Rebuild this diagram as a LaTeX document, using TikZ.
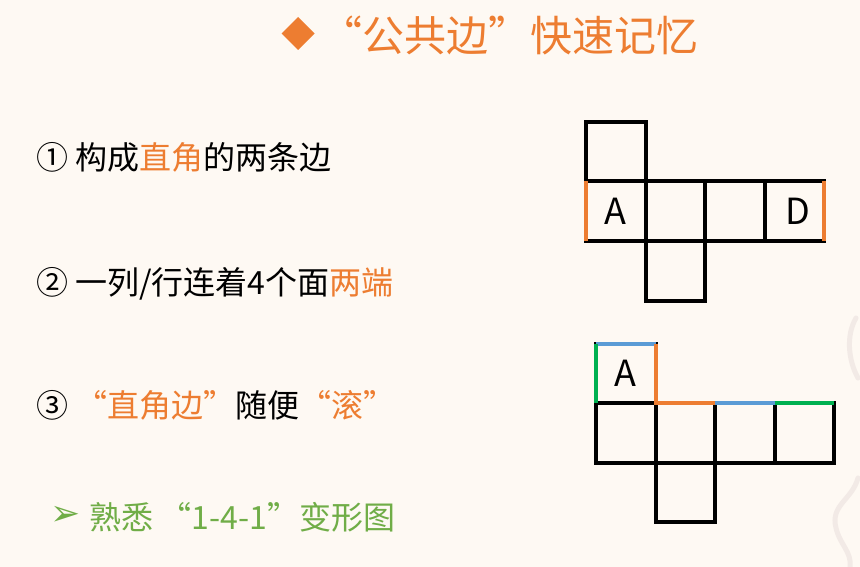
\documentclass[tikz,border=0pt]{standalone}
\usepackage{fontspec}
\setmainfont{Noto Sans CJK SC}
\newfontfamily\symfont{DejaVu Sans}
\definecolor{bgcream}{RGB}{254,249,243}
\definecolor{edgeorange}{RGB}{237,125,49}
\definecolor{edgeblue}{RGB}{91,155,213}
\definecolor{edgegreen}{RGB}{0,176,80}
\definecolor{textgreen}{RGB}{112,173,71}
\definecolor{swirl}{RGB}{242,234,230}
\tikzset{
  cell/.style={draw, line width=4pt, minimum size=59.5pt, inner sep=0pt, outer sep=0pt},
  letter/.style={font=\fontsize{36}{36}\selectfont, inner sep=0pt},
  hl/.style={line width=4pt},
  rowtext/.style={anchor=west, inner sep=0pt, font=\fontsize{32}{32}\selectfont}
}
\begin{document}
\begin{tikzpicture}[x=1pt, y=-1pt]
            % Фон
            \useasboundingbox (0,0) rectangle (860,567);
            \fill[bgcream] (0,0) rectangle (860,567);
            \draw[swirl, line width=5pt, line cap=round] (856,318) .. controls (846,335) and (848,360) .. (858,378);
            \draw[swirl, line width=5pt, line cap=round] (858,478) .. controls (852,500) and (830,505) .. (836,528) .. controls (840,545) and (852,552) .. (850,567);
            
            % Заголовок
            \fill[edgeorange] (298,17) -- (314.5,33.5) -- (298,50) -- (281.5,33.5) -- cycle;
            \node[anchor=west, inner sep=0pt, text=edgeorange, font=\fontsize{42}{42}\selectfont] (title) at (320,35) {“公共边”快速记忆};
            
            % Текст
            \node[rowtext] (r1) at (36,157.5) {① 构成{\color{edgeorange}直角}的两条边};
            \node[rowtext] (r2) at (36,284) {② 一列/行连着4个面{\color{edgeorange}两端}};
            \node[rowtext] (r3) at (36,405) {③ {\color{edgeorange}“直角边”}随便{\color{edgeorange}“滚”}};
            \node[inner sep=0pt, text=textgreen, font=\symfont\fontsize{36}{36}\selectfont] (bullet) at (66,516) {➢};
            \node[rowtext, text=textgreen] (r4) at (89,517) {熟悉\hspace{0.2em}“1-4-1”变形图};
            
            % Развёртка 1
            \node[cell] (ttop) at (615.75,151.75) {};
            \foreach \i in {0,...,3}
                \node[cell] (t\i) at (615.75+59.5*\i,211.25) {};
            \node[cell] (tbot) at (675.25,270.75) {};
            \node[letter] (tA) at (t0) {A};
            \node[letter] (tD) at ([xshift=4pt]t3) {D};
            \draw[hl, edgeorange] (t0.north west) -- (t0.south west);
            \draw[hl, edgeorange] (t3.north east) -- (t3.south east);
            
            % Развёртка 2
            \node[cell] (btop) at (625.75,373.25) {};
            \foreach \i in {0,...,3}
                \node[cell] (b\i) at (625.75+59.5*\i,432.75) {};
            \node[cell] (bbot) at (685.25,492.25) {};
            \node[letter] (bA) at (btop) {A};
            \draw[hl, edgeblue] (btop.north west) -- (btop.north east);
            \draw[hl, edgegreen] (btop.north west) -- (btop.south west);
            \draw[hl, edgeorange] (btop.north east) -- (btop.south east) -- (b1.north east);
            \draw[hl, edgeblue] (b2.north west) -- (b2.north east);
            \draw[hl, edgegreen] (b3.north west) -- (b3.north east);
            
        \end{tikzpicture}
\end{document}
